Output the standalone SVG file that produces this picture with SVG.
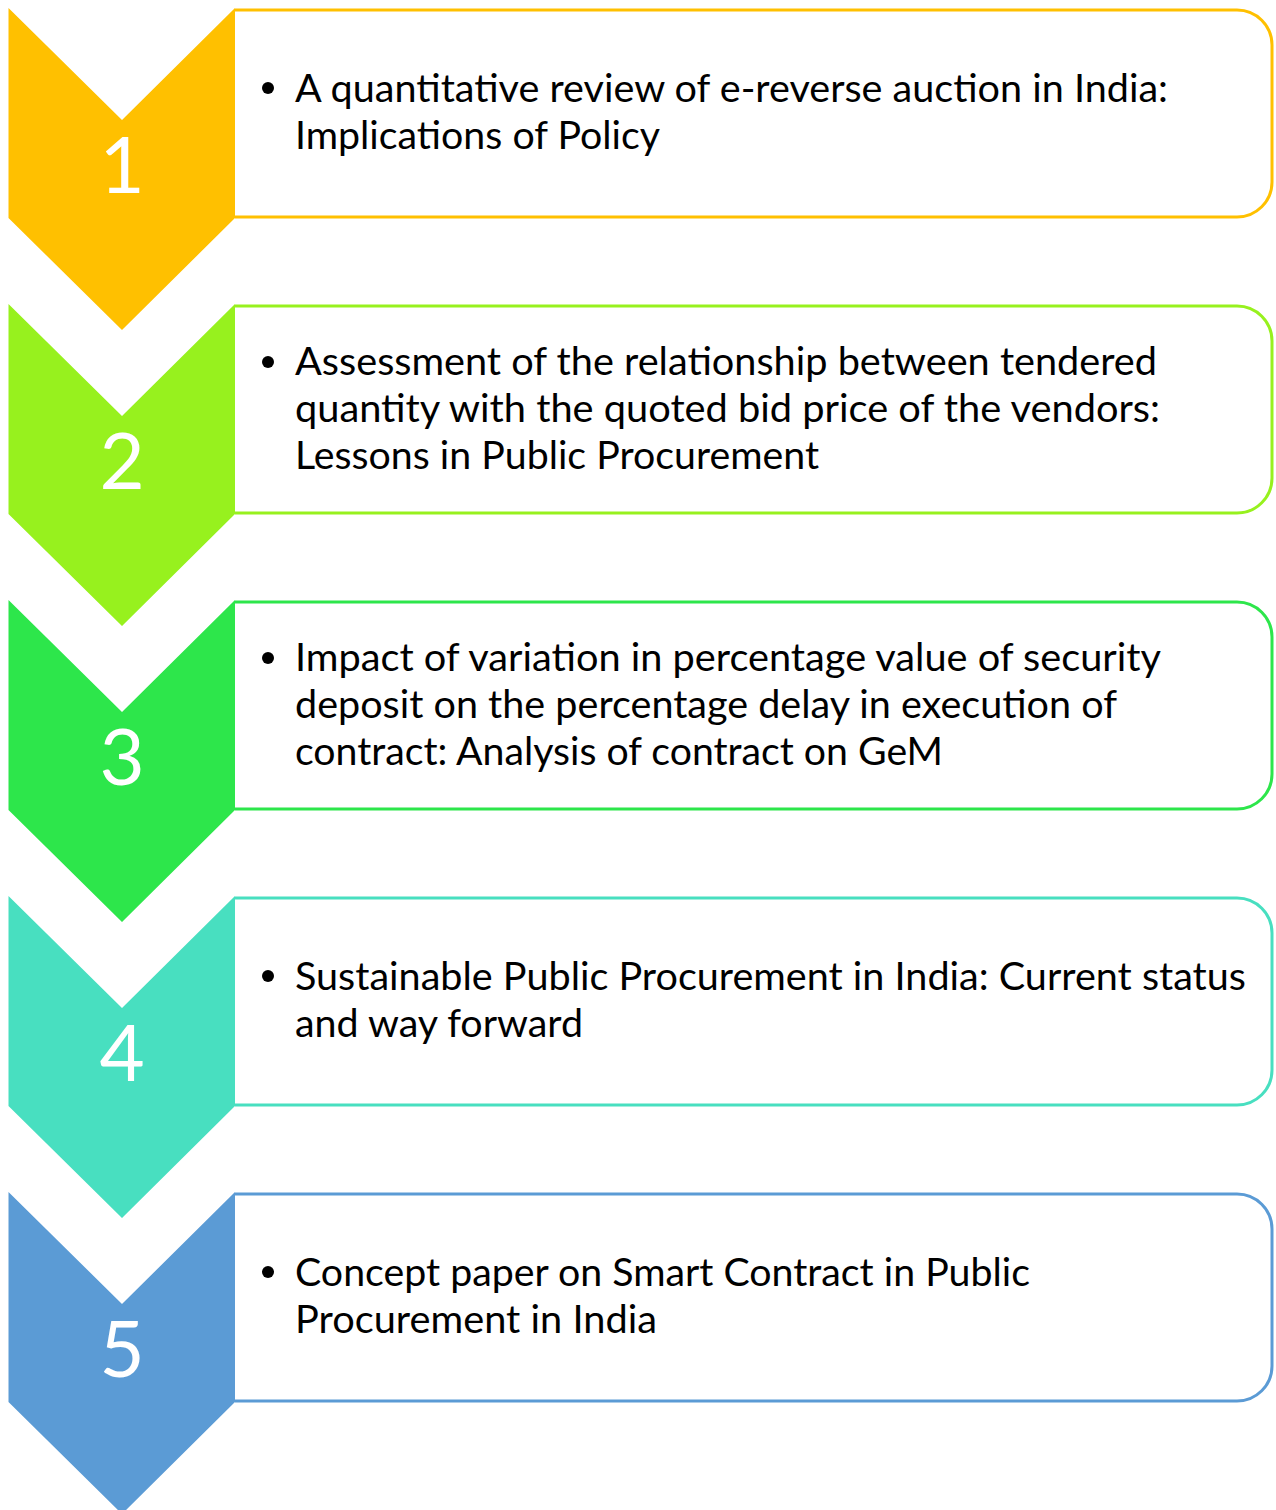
<svg xmlns="http://www.w3.org/2000/svg" width="1276" height="1510" viewBox="0 0 1276 1510">
<style>
.box{fill:#fff;stroke-width:3}
.num{font-family:Lato,"Open Sans",sans-serif;font-size:78px;fill:#fff;text-anchor:middle}
.t{font-family:Lato,"Open Sans",sans-serif;font-size:38px;fill:#000}
</style>
<defs>
<path id="chev" d="M8.5,0 L122,112 L235,0 L235,210 L122,322 L8.5,210 Z"/>
<path id="box" d="M235,2 L1237,2 A35,35 0 0 1 1272,37 L1272,174 A35,35 0 0 1 1237,209 L235,209"/>
</defs>
<rect width="1276" height="1510" fill="#fff"/>
<g id="node1" transform="translate(0,8)">
<use href="#box" class="box" stroke="#FFC000"/>
<use href="#chev" fill="#FFC000"/>
<text class="num" x="122" y="185">1</text>
<circle cx="268" cy="80" r="6"/>
<text class="t" x="295" y="94" textLength="873" lengthAdjust="spacingAndGlyphs">A quantitative review of e-reverse auction in India:</text>
<text class="t" x="295" y="141" textLength="365" lengthAdjust="spacingAndGlyphs">Implications of Policy</text>
</g>
<g id="node2" transform="translate(0,304)">
<use href="#box" class="box" stroke="#97F11E"/>
<use href="#chev" fill="#97F11E"/>
<text class="num" x="122" y="185">2</text>
<circle cx="268" cy="58" r="6"/>
<text class="t" x="295" y="71" textLength="862" lengthAdjust="spacingAndGlyphs">Assessment of the relationship between tendered</text>
<text class="t" x="295" y="118" textLength="865" lengthAdjust="spacingAndGlyphs">quantity with the quoted bid price of the vendors:</text>
<text class="t" x="295" y="165" textLength="524" lengthAdjust="spacingAndGlyphs">Lessons in Public Procurement</text>
</g>
<g id="node3" transform="translate(0,600)">
<use href="#box" class="box" stroke="#2DE64B"/>
<use href="#chev" fill="#2DE64B"/>
<text class="num" x="122" y="185">3</text>
<circle cx="268" cy="58" r="6"/>
<text class="t" x="295" y="71" textLength="866" lengthAdjust="spacingAndGlyphs">Impact of variation in percentage value of security</text>
<text class="t" x="295" y="118" textLength="822" lengthAdjust="spacingAndGlyphs">deposit on the percentage delay in execution of</text>
<text class="t" x="295" y="165" textLength="648" lengthAdjust="spacingAndGlyphs">contract: Analysis of contract on GeM</text>
</g>
<g id="node4" transform="translate(0,896)">
<use href="#box" class="box" stroke="#48DFC0"/>
<use href="#chev" fill="#48DFC0"/>
<text class="num" x="122" y="185">4</text>
<circle cx="268" cy="80" r="6"/>
<text class="t" x="295" y="94" textLength="951" lengthAdjust="spacingAndGlyphs">Sustainable Public Procurement in India: Current status</text>
<text class="t" x="295" y="141" textLength="288" lengthAdjust="spacingAndGlyphs">and way forward</text>
</g>
<g id="node5" transform="translate(0,1192)">
<use href="#box" class="box" stroke="#5B9BD5"/>
<use href="#chev" fill="#5B9BD5"/>
<text class="num" x="122" y="185">5</text>
<circle cx="268" cy="80" r="6"/>
<text class="t" x="295" y="94" textLength="735" lengthAdjust="spacingAndGlyphs">Concept paper on Smart Contract in Public</text>
<text class="t" x="295" y="141" textLength="362" lengthAdjust="spacingAndGlyphs">Procurement in India</text>
</g>
<g id="connectors"/>
</svg>
